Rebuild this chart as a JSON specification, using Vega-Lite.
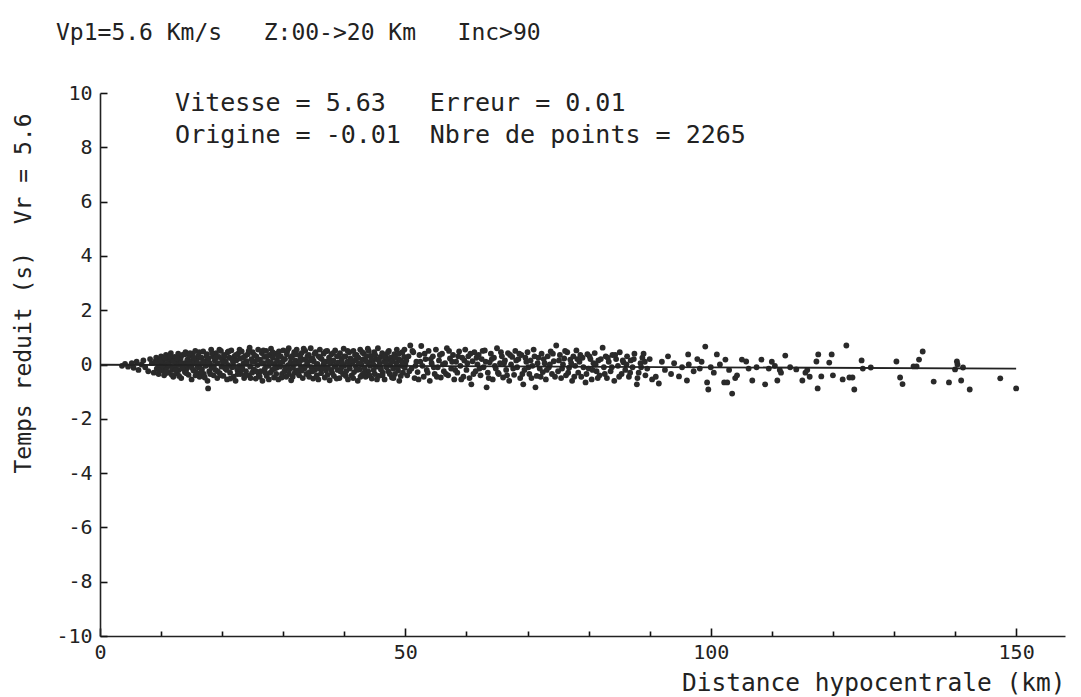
{
"$schema":"https://vega.github.io/schema/vega-lite/v6.json",
"width":965,"height":543,
"autosize":{"type":"none"},
"padding":{"left":100,"top":93,"right":16,"bottom":61},
"background":"white",
"title":{"text":"Vp1=5.6 Km/s\u00a0\u00a0\u00a0Z:00->20 Km\u00a0\u00a0\u00a0Inc>90","anchor":"start","frame":"group","dx":-44,"offset":38,"font":"DejaVu Sans Mono","fontSize":23,"fontWeight":"normal","color":"#222"},
"config":{"view":{"stroke":null},"axis":{"grid":false,"domainColor":"#222","tickColor":"#111","labelColor":"#222","titleColor":"#222","labelFont":"DejaVu Sans Mono","titleFont":"DejaVu Sans Mono","labelFontSize":20,"titleFontSize":24,"titleFontWeight":"normal","domainWidth":1.6,"tickWidth":1.6,"labelFlush":false,"labelOverlap":false}},
"layer":[
{"data":{"values":[
{"d":3.6,"t":-0.05},{"d":4.1,"t":0.02},{"d":4.6,"t":-0.08},{"d":5.2,"t":0.05},{"d":5.5,"t":-0.12},{"d":6.0,"t":0.1},{"d":6.3,"t":-0.2},{"d":6.8,"t":0.0},{"d":7.1,"t":0.15},{"d":7.4,"t":-0.1},{"d":7.9,"t":-0.25},{"d":8.2,"t":0.2},{"d":8.5,"t":0.05},{"d":8.8,"t":-0.3},{"d":9.1,"t":0.12},
{"d":9.2,"t":0.25},{"d":9.3,"t":-0.15},{"d":9.5,"t":0.05},{"d":9.6,"t":-0.35},{"d":9.8,"t":0.18},{"d":9.9,"t":-0.05},{"d":10.0,"t":0.3},
{"d":10.2,"t":-0.22},{"d":10.3,"t":0.1},{"d":10.5,"t":-0.4},{"d":10.6,"t":0.02},{"d":10.8,"t":0.35},{"d":10.9,"t":-0.12},{"d":11.0,"t":0.2},
{"d":11.2,"t":-0.3},{"d":11.3,"t":0.08},{"d":11.5,"t":-0.05},{"d":11.6,"t":0.42},{"d":11.8,"t":-0.18},{"d":11.9,"t":0.15},{"d":12.0,"t":-0.45},
{"d":12.2,"t":0.28},{"d":12.3,"t":-0.08},{"d":12.5,"t":0.12},{"d":12.6,"t":-0.32},{"d":12.8,"t":0.4},{"d":12.9,"t":-0.2},{"d":13.0,"t":0.0},
{"d":13.2,"t":0.22},{"d":13.3,"t":-0.5},{"d":13.5,"t":0.35},{"d":13.6,"t":-0.1},{"d":13.8,"t":0.05},{"d":13.9,"t":-0.28},{"d":14.0,"t":0.45},
{"d":14.2,"t":-0.15},{"d":14.3,"t":0.18},{"d":14.5,"t":-0.38},{"d":14.6,"t":0.3},{"d":14.8,"t":-0.05},{"d":14.9,"t":0.1},{"d":15.0,"t":-0.55},
{"d":15.2,"t":0.4},{"d":15.3,"t":-0.22},{"d":15.5,"t":0.08},{"d":15.6,"t":0.5},{"d":15.8,"t":-0.3},{"d":15.9,"t":0.2},{"d":16.0,"t":-0.1},
{"d":16.1,"t":0.32},{"d":16.3,"t":-0.45},{"d":16.4,"t":0.0},{"d":16.6,"t":0.25},{"d":16.7,"t":-0.18},{"d":16.9,"t":0.48},{"d":17.0,"t":-0.35},
{"d":17.2,"t":0.12},{"d":17.3,"t":-0.05},{"d":17.5,"t":0.38},{"d":17.6,"t":-0.6},{"d":17.7,"t":-0.88},{"d":17.8,"t":0.22},{"d":17.9,"t":-0.25},{"d":18.0,"t":0.05},
{"d":18.2,"t":0.55},{"d":18.3,"t":-0.12},{"d":18.5,"t":0.3},{"d":18.6,"t":-0.4},{"d":18.8,"t":0.15},{"d":18.9,"t":-0.2},{"d":19.0,"t":0.42},
{"d":19.2,"t":-0.5},{"d":19.3,"t":0.05},{"d":19.5,"t":0.28},{"d":19.6,"t":-0.32},{"d":19.8,"t":0.5},{"d":19.9,"t":-0.08},{"d":20.0,"t":0.18},
{"d":20.2,"t":-0.42},{"d":20.3,"t":0.35},{"d":20.5,"t":-0.15},{"d":20.6,"t":0.1},{"d":20.8,"t":-0.55},{"d":20.9,"t":0.45},{"d":21.0,"t":-0.02},
{"d":21.2,"t":0.25},{"d":21.3,"t":-0.3},{"d":21.5,"t":0.52},{"d":21.6,"t":-0.1},{"d":21.8,"t":0.08},{"d":21.9,"t":-0.45},{"d":22.0,"t":0.3},
{"d":22.2,"t":-0.6},{"d":22.3,"t":0.15},{"d":22.5,"t":-0.2},{"d":22.6,"t":0.4},{"d":22.8,"t":-0.05},{"d":22.9,"t":0.22},{"d":23.0,"t":-0.35},
{"d":23.2,"t":0.48},{"d":23.3,"t":-0.12},{"d":23.5,"t":0.05},{"d":23.6,"t":-0.5},{"d":23.8,"t":0.32},{"d":23.9,"t":-0.25},{"d":24.0,"t":0.12},
{"d":24.2,"t":0.38},{"d":24.4,"t":-0.4},{"d":24.5,"t":0.62},{"d":24.6,"t":-0.08},{"d":24.8,"t":0.2},{"d":24.9,"t":-0.3},{"d":25.0,"t":0.45},
{"d":25.2,"t":-0.18},{"d":25.3,"t":0.1},{"d":25.5,"t":-0.52},{"d":25.6,"t":0.3},{"d":25.8,"t":-0.02},{"d":25.9,"t":0.55},{"d":26.0,"t":-0.38},
{"d":26.2,"t":0.18},{"d":26.3,"t":-0.25},{"d":26.5,"t":0.42},{"d":26.6,"t":-0.6},{"d":26.8,"t":0.05},{"d":26.9,"t":0.28},{"d":27.0,"t":-0.15},
{"d":27.2,"t":0.5},{"d":27.3,"t":-0.42},{"d":27.5,"t":0.12},{"d":27.6,"t":-0.05},{"d":27.8,"t":0.35},{"d":27.9,"t":-0.3},{"d":28.0,"t":0.58},
{"d":28.2,"t":-0.2},{"d":28.3,"t":0.25},{"d":28.5,"t":-0.48},{"d":28.6,"t":0.02},{"d":28.8,"t":0.4},{"d":28.9,"t":-0.12},{"d":29.0,"t":0.15},
{"d":29.2,"t":-0.55},{"d":29.3,"t":0.48},{"d":29.5,"t":-0.08},{"d":29.6,"t":0.3},{"d":29.8,"t":-0.35},{"d":29.9,"t":0.1},{"d":30.0,"t":0.52},
{"d":30.2,"t":-0.25},{"d":30.3,"t":0.2},{"d":30.5,"t":-0.45},{"d":30.6,"t":0.38},{"d":30.8,"t":-0.02},{"d":30.9,"t":0.6},{"d":31.0,"t":-0.18},
{"d":31.2,"t":0.08},{"d":31.3,"t":-0.58},{"d":31.5,"t":0.32},{"d":31.6,"t":-0.12},{"d":31.8,"t":0.45},{"d":31.9,"t":-0.3},{"d":32.0,"t":0.15},
{"d":32.2,"t":0.55},{"d":32.3,"t":-0.22},{"d":32.5,"t":0.05},{"d":32.6,"t":-0.4},{"d":32.8,"t":0.28},{"d":32.9,"t":-0.08},{"d":33.0,"t":0.42},
{"d":33.2,"t":-0.5},{"d":33.3,"t":0.18},{"d":33.5,"t":-0.15},{"d":33.6,"t":0.5},{"d":33.8,"t":-0.35},{"d":33.9,"t":0.1},{"d":34.0,"t":-0.02},
{"d":34.2,"t":0.35},{"d":34.3,"t":-0.28},{"d":34.5,"t":0.6},{"d":34.6,"t":-0.1},{"d":34.8,"t":0.22},{"d":34.9,"t":-0.52},{"d":35.0,"t":0.12},
{"d":35.2,"t":-0.2},{"d":35.3,"t":0.45},{"d":35.5,"t":-0.4},{"d":35.6,"t":0.02},{"d":35.8,"t":0.3},{"d":35.9,"t":-0.15},{"d":36.0,"t":0.55},
{"d":36.2,"t":-0.32},{"d":36.3,"t":0.2},{"d":36.5,"t":-0.05},{"d":36.6,"t":0.4},{"d":36.8,"t":-0.48},{"d":36.9,"t":0.1},{"d":37.0,"t":-0.22},
{"d":37.2,"t":0.5},{"d":37.3,"t":-0.1},{"d":37.5,"t":0.25},{"d":37.6,"t":-0.58},{"d":37.8,"t":0.05},{"d":37.9,"t":0.38},{"d":38.0,"t":-0.3},
{"d":38.2,"t":0.15},{"d":38.3,"t":-0.42},{"d":38.5,"t":0.52},{"d":38.6,"t":-0.02},{"d":38.8,"t":0.3},{"d":38.9,"t":-0.2},{"d":39.0,"t":0.08},
{"d":39.2,"t":-0.5},{"d":39.3,"t":0.42},{"d":39.5,"t":-0.12},{"d":39.6,"t":0.2},{"d":39.8,"t":-0.35},{"d":39.9,"t":0.58},{"d":40.0,"t":-0.05},
{"d":40.2,"t":0.3},{"d":40.3,"t":-0.25},{"d":40.5,"t":0.1},{"d":40.6,"t":-0.55},{"d":40.8,"t":0.45},{"d":40.9,"t":-0.15},{"d":41.0,"t":0.22},
{"d":41.2,"t":-0.4},{"d":41.3,"t":0.05},{"d":41.5,"t":0.5},{"d":41.6,"t":-0.28},{"d":41.8,"t":0.15},{"d":41.9,"t":-0.08},{"d":42.0,"t":0.35},
{"d":42.2,"t":-0.6},{"d":42.3,"t":0.25},{"d":42.5,"t":-0.18},{"d":42.6,"t":0.55},{"d":42.8,"t":0.0},{"d":42.9,"t":-0.38},{"d":43.0,"t":0.18},
{"d":43.2,"t":0.4},{"d":43.3,"t":-0.12},{"d":43.5,"t":-0.45},{"d":43.6,"t":0.3},{"d":43.8,"t":0.08},{"d":43.9,"t":-0.25},{"d":44.0,"t":0.5},
{"d":44.2,"t":-0.05},{"d":44.3,"t":0.32},{"d":44.5,"t":-0.52},{"d":44.6,"t":0.12},{"d":44.8,"t":-0.2},{"d":44.9,"t":0.45},{"d":45.0,"t":-0.35},
{"d":45.2,"t":0.2},{"d":45.3,"t":-0.08},{"d":45.5,"t":0.6},{"d":45.6,"t":-0.42},{"d":45.8,"t":0.02},{"d":45.9,"t":0.28},{"d":46.0,"t":-0.18},
{"d":46.2,"t":0.42},{"d":46.3,"t":-0.3},{"d":46.5,"t":0.1},{"d":46.6,"t":-0.55},{"d":46.8,"t":0.35},{"d":46.9,"t":-0.1},{"d":47.0,"t":0.18},
{"d":47.2,"t":-0.25},{"d":47.3,"t":0.5},{"d":47.5,"t":-0.02},{"d":47.6,"t":0.25},{"d":47.8,"t":-0.48},{"d":47.9,"t":0.12},{"d":48.0,"t":-0.15},
{"d":48.2,"t":0.38},{"d":48.3,"t":-0.35},{"d":48.5,"t":0.05},{"d":48.6,"t":0.55},{"d":48.8,"t":-0.22},{"d":48.9,"t":0.2},{"d":49.0,"t":-0.6},
{"d":49.2,"t":0.15},{"d":49.3,"t":-0.05},{"d":49.5,"t":0.45},{"d":49.6,"t":-0.3},{"d":49.8,"t":0.28},{"d":49.9,"t":-0.12},{"d":50.0,"t":0.02},
{"d":9.35,"t":0.08},{"d":9.65,"t":-0.22},{"d":9.95,"t":0.15},{"d":10.25,"t":-0.05},{"d":10.55,"t":0.25},{"d":10.85,"t":-0.3},{"d":11.15,"t":0.0},{"d":11.45,"t":0.3},{"d":11.75,"t":-0.38},{"d":12.05,"t":0.12},{"d":12.35,"t":-0.2},{"d":12.65,"t":0.22},{"d":12.95,"t":-0.42},{"d":13.25,"t":0.05},{"d":13.55,"t":-0.15},{"d":13.85,"t":0.38},{"d":14.15,"t":-0.32},{"d":14.45,"t":0.02},{"d":14.75,"t":0.42},{"d":15.05,"t":-0.12},{"d":15.35,"t":0.25},{"d":15.65,"t":-0.4},{"d":15.95,"t":0.05},{"d":16.25,"t":0.45},{"d":16.55,"t":-0.28},{"d":16.85,"t":0.1},{"d":17.15,"t":-0.48},{"d":17.45,"t":0.3},{"d":17.75,"t":0.0},{"d":18.05,"t":-0.35},{"d":18.35,"t":0.42},{"d":18.65,"t":-0.05},{"d":18.95,"t":0.25},{"d":19.25,"t":-0.25},{"d":19.55,"t":0.55},{"d":19.85,"t":-0.4},{"d":20.15,"t":0.08},{"d":20.45,"t":0.3},{"d":20.75,"t":-0.2},{"d":21.05,"t":0.48},{"d":21.35,"t":-0.52},{"d":21.65,"t":0.18},{"d":21.95,"t":-0.08},{"d":22.25,"t":0.35},{"d":22.55,"t":-0.35},{"d":22.85,"t":0.55},{"d":23.15,"t":-0.18},{"d":23.45,"t":0.25},{"d":23.75,"t":-0.4},{"d":24.05,"t":0.02},{"d":24.35,"t":0.5},{"d":24.65,"t":-0.5},{"d":24.95,"t":0.1},{"d":25.25,"t":0.35},{"d":25.55,"t":-0.25},{"d":25.85,"t":0.18},{"d":26.15,"t":-0.45},{"d":26.45,"t":0.05},{"d":26.75,"t":0.52},{"d":27.05,"t":-0.3},{"d":27.35,"t":0.3},{"d":27.65,"t":-0.55},{"d":27.95,"t":0.08},{"d":28.25,"t":0.45},{"d":28.55,"t":-0.15},{"d":28.85,"t":-0.35},{"d":29.15,"t":0.32},{"d":29.45,"t":0.02},{"d":29.75,"t":-0.48},{"d":30.05,"t":0.2},{"d":30.35,"t":-0.1},{"d":30.65,"t":0.5},{"d":30.95,"t":-0.35},{"d":31.25,"t":0.25},{"d":31.55,"t":-0.45},{"d":31.85,"t":0.02},{"d":32.15,"t":0.38},{"d":32.45,"t":-0.3},{"d":32.75,"t":0.12},{"d":33.05,"t":-0.22},{"d":33.35,"t":0.58},{"d":33.65,"t":-0.05},{"d":33.95,"t":0.3},{"d":34.25,"t":-0.45},{"d":34.55,"t":0.15},{"d":34.85,"t":-0.25},{"d":35.15,"t":0.4},{"d":35.45,"t":-0.05},{"d":35.75,"t":-0.55},{"d":36.05,"t":0.25},{"d":36.35,"t":-0.15},{"d":36.65,"t":0.05},{"d":36.95,"t":0.48},{"d":37.25,"t":-0.38},{"d":37.55,"t":0.1},{"d":37.85,"t":-0.2},{"d":38.15,"t":0.42},{"d":38.45,"t":-0.08},{"d":38.75,"t":-0.52},{"d":39.05,"t":0.32},{"d":39.35,"t":-0.25},{"d":39.65,"t":0.05},{"d":39.95,"t":0.3},{"d":40.25,"t":-0.42},{"d":40.55,"t":0.5},{"d":40.85,"t":-0.05},{"d":41.15,"t":0.15},{"d":41.45,"t":-0.5},{"d":41.75,"t":0.35},{"d":42.05,"t":-0.2},{"d":42.35,"t":0.05},{"d":42.65,"t":-0.45},{"d":42.95,"t":0.45},{"d":43.25,"t":-0.3},{"d":43.55,"t":0.12},{"d":43.85,"t":0.58},{"d":44.15,"t":-0.4},{"d":44.45,"t":0.2},{"d":44.75,"t":0.0},{"d":45.05,"t":0.35},{"d":45.35,"t":-0.55},{"d":45.65,"t":0.15},{"d":45.95,"t":-0.1},{"d":46.25,"t":-0.4},{"d":46.55,"t":0.3},{"d":46.85,"t":0.05},{"d":47.15,"t":0.45},{"d":47.45,"t":-0.35},{"d":47.75,"t":0.1},{"d":48.05,"t":-0.5},{"d":48.35,"t":0.25},{"d":48.65,"t":-0.1},{"d":48.95,"t":0.4},{"d":49.25,"t":-0.42},{"d":49.55,"t":0.08},{"d":49.85,"t":0.55},
{"d":50.3,"t":-0.4},{"d":50.5,"t":0.3},{"d":50.8,"t":0.7},{"d":51.0,"t":-0.15},{"d":51.3,"t":0.45},{"d":51.5,"t":-0.5},{"d":51.8,"t":0.1},{"d":52.0,"t":-0.28},
{"d":52.3,"t":0.35},{"d":52.6,"t":0.68},{"d":52.8,"t":-0.05},{"d":53.0,"t":-0.45},{"d":53.3,"t":0.2},{"d":53.5,"t":-0.2},{"d":53.8,"t":0.5},{"d":54.0,"t":-0.6},
{"d":54.3,"t":0.05},{"d":54.5,"t":0.3},{"d":54.8,"t":-0.35},{"d":55.0,"t":0.55},{"d":55.3,"t":-0.1},{"d":55.5,"t":0.15},{"d":55.8,"t":-0.48},{"d":56.0,"t":0.4},
{"d":56.3,"t":-0.25},{"d":56.5,"t":0.05},{"d":56.8,"t":0.6},{"d":57.0,"t":-0.4},{"d":57.3,"t":0.22},{"d":57.5,"t":-0.15},{"d":57.8,"t":0.35},{"d":58.0,"t":-0.55},
{"d":58.3,"t":0.1},{"d":58.5,"t":-0.3},{"d":58.8,"t":0.48},{"d":59.0,"t":-0.05},{"d":59.3,"t":0.25},{"d":59.5,"t":-0.45},{"d":59.8,"t":0.55},{"d":60.0,"t":-0.2},
{"d":60.3,"t":0.3},{"d":60.5,"t":-0.5},{"d":60.8,"t":-0.73},{"d":61.0,"t":0.12},{"d":61.3,"t":0.45},{"d":61.5,"t":-0.25},{"d":61.8,"t":0.0},{"d":62.0,"t":0.35},
{"d":62.3,"t":-0.4},{"d":62.5,"t":0.2},{"d":62.8,"t":-0.1},{"d":63.0,"t":0.52},{"d":63.3,"t":-0.84},{"d":63.5,"t":-0.3},{"d":63.8,"t":0.08},{"d":64.0,"t":0.4},
{"d":64.3,"t":-0.55},{"d":64.5,"t":0.25},{"d":64.8,"t":-0.15},{"d":65.0,"t":0.6},{"d":65.3,"t":-0.35},{"d":65.5,"t":0.05},{"d":65.8,"t":0.3},{"d":66.0,"t":-0.48},
{"d":66.3,"t":0.15},{"d":66.5,"t":-0.2},{"d":66.8,"t":0.42},{"d":67.0,"t":-0.6},{"d":67.3,"t":0.0},{"d":67.5,"t":0.28},{"d":67.8,"t":-0.38},{"d":68.0,"t":0.5},
{"d":68.3,"t":-0.1},{"d":68.5,"t":0.2},{"d":68.8,"t":-0.5},{"d":69.0,"t":0.35},{"d":69.3,"t":-0.73},{"d":69.5,"t":-0.2},{"d":69.8,"t":0.1},{"d":70.0,"t":0.45},
{"d":70.3,"t":-0.35},{"d":70.5,"t":0.15},{"d":70.8,"t":-0.05},{"d":71.0,"t":0.55},{"d":71.3,"t":-0.84},{"d":71.5,"t":-0.42},{"d":71.8,"t":0.25},{"d":72.0,"t":-0.15},
{"d":72.3,"t":0.4},{"d":72.5,"t":-0.28},{"d":72.8,"t":0.05},{"d":73.0,"t":-0.55},{"d":73.3,"t":0.3},{"d":73.5,"t":-0.1},{"d":73.8,"t":0.48},{"d":74.0,"t":-0.35},
{"d":74.3,"t":0.12},{"d":74.7,"t":0.7},{"d":75.0,"t":-0.25},{"d":75.3,"t":0.35},{"d":75.5,"t":-0.5},{"d":75.8,"t":0.0},{"d":76.0,"t":0.22},
{"d":76.3,"t":-0.4},{"d":76.5,"t":0.45},{"d":76.8,"t":-0.12},{"d":77.0,"t":0.18},{"d":77.3,"t":-0.6},{"d":77.5,"t":0.3},{"d":77.8,"t":-0.05},{"d":78.0,"t":0.52},
{"d":78.3,"t":-0.3},{"d":78.5,"t":0.1},{"d":78.8,"t":-0.45},{"d":79.0,"t":0.25},{"d":79.5,"t":-0.66},{"d":79.8,"t":0.38},{"d":80.0,"t":-0.15},
{"d":80.3,"t":0.2},{"d":80.5,"t":-0.55},{"d":80.8,"t":0.05},{"d":81.0,"t":0.42},{"d":81.3,"t":-0.25},{"d":81.6,"t":0.15},{"d":81.8,"t":-0.4},
{"d":82.3,"t":0.62},{"d":82.5,"t":-0.1},{"d":82.8,"t":0.3},{"d":83.0,"t":-0.5},{"d":83.3,"t":0.1},{"d":83.6,"t":-0.25},{"d":83.9,"t":0.35},
{"d":84.2,"t":-0.6},{"d":84.5,"t":0.2},{"d":84.8,"t":-0.05},{"d":85.1,"t":0.45},{"d":85.4,"t":-0.35},{"d":85.7,"t":0.08},{"d":86.0,"t":-0.2},
{"d":86.3,"t":0.3},{"d":86.6,"t":-0.45},{"d":86.9,"t":0.15},{"d":87.2,"t":-0.1},{"d":87.5,"t":0.4},{"d":87.9,"t":-0.73},{"d":88.2,"t":-0.3},
{"d":88.5,"t":0.05},{"d":88.8,"t":0.25},{"d":89.0,"t":0.4},{"d":89.3,"t":-0.4},{"d":89.6,"t":-0.15},{"d":90.0,"t":0.2},
{"d":50.15,"t":0.15},{"d":50.65,"t":-0.25},{"d":51.15,"t":0.5},{"d":51.65,"t":-0.05},{"d":52.15,"t":-0.55},{"d":52.45,"t":0.1},{"d":53.15,"t":0.4},{"d":53.65,"t":-0.3},{"d":54.15,"t":0.2},{"d":54.65,"t":-0.1},{"d":55.15,"t":-0.45},{"d":55.65,"t":0.35},{"d":56.15,"t":0.0},{"d":56.65,"t":-0.35},{"d":57.15,"t":0.5},{"d":57.65,"t":0.1},{"d":58.15,"t":-0.2},{"d":58.65,"t":0.3},{"d":59.15,"t":-0.55},{"d":59.65,"t":0.15},{"d":60.15,"t":0.05},{"d":60.65,"t":0.4},{"d":61.15,"t":-0.35},{"d":61.65,"t":0.25},{"d":62.15,"t":-0.15},{"d":62.65,"t":0.5},{"d":63.15,"t":0.1},{"d":63.65,"t":-0.5},{"d":64.15,"t":0.2},{"d":64.65,"t":-0.05},{"d":65.15,"t":-0.3},{"d":65.65,"t":0.45},{"d":66.15,"t":0.05},{"d":66.65,"t":-0.4},{"d":67.15,"t":0.35},{"d":67.65,"t":-0.15},{"d":68.15,"t":0.15},{"d":68.65,"t":0.4},{"d":69.15,"t":-0.35},{"d":69.65,"t":0.25},{"d":70.15,"t":-0.1},{"d":70.65,"t":-0.5},{"d":71.15,"t":0.3},{"d":71.65,"t":0.05},{"d":72.15,"t":-0.45},{"d":72.65,"t":0.2},{"d":73.15,"t":-0.2},{"d":73.65,"t":0.0},{"d":74.15,"t":0.4},{"d":74.5,"t":-0.45},{"d":75.15,"t":0.15},{"d":75.65,"t":-0.15},{"d":76.15,"t":0.5},{"d":76.65,"t":-0.3},{"d":77.15,"t":0.05},{"d":77.65,"t":-0.45},{"d":78.15,"t":0.2},{"d":78.65,"t":0.35},{"d":79.15,"t":-0.1},{"d":79.65,"t":-0.35},{"d":80.15,"t":0.3},{"d":80.65,"t":-0.2},{"d":81.15,"t":0.0},{"d":81.5,"t":-0.5},{"d":82.0,"t":0.2},{"d":82.65,"t":-0.35},{"d":83.15,"t":0.25},{"d":83.8,"t":-0.1},{"d":84.35,"t":0.35},{"d":85.0,"t":-0.45},{"d":85.6,"t":0.15},{"d":86.2,"t":0.0},{"d":86.8,"t":-0.3},{"d":87.4,"t":0.2},{"d":88.0,"t":-0.5},{"d":88.6,"t":-0.1},{"d":89.2,"t":0.1},
{"d":90.4,"t":-0.55},{"d":91.0,"t":-0.45},{"d":91.5,"t":-0.7},{"d":92.0,"t":0.1},{"d":92.5,"t":-0.2},{"d":93.0,"t":0.3},{"d":93.5,"t":-0.35},{"d":94.0,"t":0.05},{"d":94.8,"t":-0.44},{"d":95.3,"t":-0.1},{"d":96.1,"t":-0.59},{"d":96.3,"t":0.37},{"d":96.4,"t":0.0},{"d":97.2,"t":-0.25},{"d":97.8,"t":0.2},{"d":98.2,"t":-0.15},{"d":98.5,"t":0.1},{"d":99.1,"t":0.66},{"d":99.4,"t":-0.66},{"d":99.6,"t":-0.92},{"d":100.0,"t":-0.1},{"d":100.5,"t":-0.3},{"d":101.0,"t":0.37},{"d":101.5,"t":0.0},{"d":102.2,"t":-0.66},{"d":102.4,"t":0.18},{"d":102.7,"t":-0.66},{"d":103.0,"t":-0.2},{"d":103.5,"t":-1.07},{"d":104.0,"t":-0.5},{"d":104.3,"t":-0.4},{"d":105.1,"t":0.18},{"d":105.8,"t":0.11},{"d":106.2,"t":-0.15},{"d":106.8,"t":-0.59},{"d":107.5,"t":-0.1},{"d":108.3,"t":0.18},{"d":108.9,"t":-0.73},{"d":109.5,"t":-0.15},{"d":110.0,"t":0.1},{"d":110.5,"t":-0.05},{"d":110.9,"t":-0.59},{"d":111.3,"t":-0.2},{"d":111.5,"t":-0.3},{"d":112.2,"t":0.33},{"d":113.0,"t":-0.1},{"d":114.0,"t":-0.18},{"d":115.0,"t":-0.59},{"d":115.5,"t":-0.3},{"d":115.8,"t":-0.2},{"d":116.2,"t":-0.45},{"d":117.3,"t":0.11},{"d":117.5,"t":-0.88},{"d":117.6,"t":0.37},{"d":118.1,"t":-0.44},{"d":119.4,"t":0.07},{"d":119.8,"t":0.37},{"d":120.0,"t":-0.4},{"d":121.6,"t":-0.55},
{"d":122.2,"t":0.7},{"d":122.7,"t":-0.48},{"d":123.2,"t":-0.48},{"d":123.5,"t":-0.92},{"d":124.7,"t":0.15},{"d":124.9,"t":-0.15},{"d":126.2,"t":-0.11},{"d":130.4,"t":0.11},{"d":131.0,"t":-0.48},{"d":131.4,"t":-0.72},{"d":133.2,"t":-0.07},{"d":133.7,"t":-0.07},{"d":134.1,"t":0.18},{"d":134.7,"t":0.48},{"d":136.5,"t":-0.63},{"d":139.0,"t":-0.66},{"d":140.3,"t":0.11},{"d":140.4,"t":0.0},{"d":140.0,"t":-0.18},{"d":141.3,"t":-0.11},{"d":141.0,"t":-0.59},{"d":142.4,"t":-0.92},{"d":147.4,"t":-0.51},{"d":150.0,"t":-0.88}
]},
"mark":{"type":"circle","size":34,"color":"#2a2a2a","opacity":1},
"encoding":{
"x":{"field":"d","type":"quantitative","scale":{"domain":[0,158],"nice":false,"zero":false},
"axis":{"values":[0,10,20,30,40,50,60,70,80,90,100,110,120,130,140,150],"labelExpr":"datum.value % 50 === 0 ? '' + datum.value : ''","tickSize":{"condition":{"test":"datum.value % 50 === 0","value":-8},"value":-5},"labelPadding":14,"title":"Distance hypocentrale (km)","titleAnchor":"end","titleFontSize":24.5,"titlePadding":6}},
"y":{"field":"t","type":"quantitative","scale":{"domain":[-10,10],"nice":false,"zero":false},
"axis":{"values":[-10,-9.5,-9,-8.5,-8,-7.5,-7,-6.5,-6,-5.5,-5,-4.5,-4,-3.5,-3,-2.5,-2,-1.5,-1,-0.5,0,0.5,1,1.5,2,2.5,3,3.5,4,4.5,5,5.5,6,6.5,7,7.5,8,8.5,9,9.5,10],"labelExpr":"datum.value % 2 === 0 ? '' + datum.value : ''","tickSize":{"condition":{"test":"datum.value % 2 === 0","value":-7},"value":-4},"labelPadding":15,"title":"Temps reduit (s)\u00a0\u00a0Vr = 5.6","titleFontSize":23,"titlePadding":20,"titleY":200}}
}},
{"data":{"values":[{"d":0,"t":-0.01},{"d":150,"t":-0.15}]},
"mark":{"type":"line","color":"#222","strokeWidth":1.8},
"encoding":{"x":{"field":"d","type":"quantitative"},"y":{"field":"t","type":"quantitative"}}},
{"data":{"values":[{"d":12.3,"t":9.32,"label":"Vitesse = 5.63"},{"d":54,"t":9.32,"label":"Erreur = 0.01"},{"d":12.3,"t":8.14,"label":"Origine = -0.01"},{"d":54,"t":8.14,"label":"Nbre de points = 2265"}]},
"mark":{"type":"text","align":"left","baseline":"alphabetic","font":"DejaVu Sans Mono","fontSize":25,"color":"#222"},
"encoding":{"x":{"field":"d","type":"quantitative"},"y":{"field":"t","type":"quantitative"},"text":{"field":"label"}}}
]
}
